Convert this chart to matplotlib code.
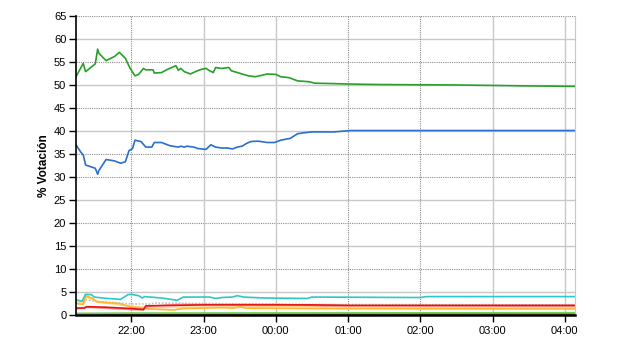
from datetime import datetime

import matplotlib
matplotlib.use('Agg')
import matplotlib.dates as mdates
import matplotlib.pyplot as plt

plt.rcParams['font.family'] = ['Liberation Sans', 'DejaVu Sans']

# (times, % of vote) per party
green_t = ['21:14', '21:20', '21:22', '21:30', '21:32', '21:33', '21:39', '21:46', '21:50',
           '21:55', '21:59', '22:03', '22:06', '22:10', '22:12', '22:18', '22:19', '22:25',
           '22:30', '22:37', '22:39', '22:41', '22:44', '22:49', '22:54', '22:58', '23:02',
           '23:05', '23:08', '23:10', '23:15', '23:21', '23:23', '23:28', '23:37', '23:43',
           '23:53', '00:00', '00:04', '00:11', '00:18', '00:28', '00:32', '00:48', '01:02',
           '01:27', '02:30', '03:30', '04:08']
green_v = [51.8, 54.7, 52.9, 54.6, 57.8, 56.9, 55.3, 56.2, 57.1,
           55.8, 53.6, 52.0, 52.3, 53.6, 53.3, 53.3, 52.6, 52.7,
           53.4, 54.2, 53.2, 53.6, 52.9, 52.4, 53.0, 53.4, 53.6,
           53.1, 52.7, 53.8, 53.6, 53.8, 53.1, 52.7, 52.0, 51.8,
           52.4, 52.3, 51.8, 51.6, 50.9, 50.7, 50.4, 50.3, 50.2,
           50.1, 50.0, 49.8, 49.7]

blue_t = ['21:14', '21:18', '21:20', '21:22', '21:30', '21:32', '21:33', '21:39', '21:46',
          '21:51', '21:55', '21:58', '22:01', '22:03', '22:08', '22:12', '22:17', '22:19',
          '22:25', '22:32', '22:39', '22:41', '22:44', '22:46', '22:52', '22:55', '23:02',
          '23:06', '23:10', '23:15', '23:20', '23:24', '23:28', '23:32', '23:35', '23:39',
          '23:45', '23:53', '23:59', '00:04', '00:12', '00:18', '00:23', '00:30', '00:48',
          '01:02', '02:00', '03:00', '04:08']
blue_v = [37.0, 35.4, 34.8, 32.6, 31.9, 30.6, 31.4, 33.8, 33.5,
          33.0, 33.3, 35.7, 36.2, 38.0, 37.7, 36.5, 36.5, 37.5,
          37.5, 36.8, 36.5, 36.7, 36.5, 36.7, 36.5, 36.2, 36.0,
          37.0, 36.5, 36.3, 36.3, 36.1, 36.5, 36.7, 37.2, 37.7,
          37.8, 37.5, 37.5, 38.0, 38.4, 39.4, 39.6, 39.8, 39.8,
          40.1, 40.1, 40.1, 40.1]

cyan_t = ['21:14', '21:19', '21:22', '21:27', '21:29', '21:40', '21:51', '21:57', '22:00',
          '22:06', '22:09', '22:11', '22:25', '22:38', '22:43', '23:05', '23:10', '23:15',
          '23:24', '23:28', '23:33', '23:50', '00:26', '00:30', '02:00', '02:05', '04:08']
cyan_v = [3.3, 3.0, 4.5, 4.4, 3.9, 3.6, 3.4, 4.4, 4.5,
          4.2, 3.7, 4.0, 3.7, 3.2, 3.9, 3.9, 3.6, 3.8,
          3.9, 4.2, 3.9, 3.7, 3.6, 3.9, 3.8, 4.0, 4.0]

gray_t = ['21:14', '21:22', '21:30', '22:00', '22:15', '22:20', '23:00', '23:40', '00:30', '04:08']
gray_v = [2.6, 3.3, 3.0, 2.4, 2.4, 2.6, 2.5, 2.4, 2.3, 2.2]

yellow_t = ['21:14', '21:21', '21:23', '21:30', '21:50', '22:00', '22:15', '23:00', '00:00', '04:08']
yellow_v = [2.8, 2.6, 3.9, 3.0, 2.2, 1.9, 1.6, 1.7, 1.8, 1.7]

orange_t = ['21:14', '21:20', '21:22', '21:27', '21:32', '21:50', '22:00', '22:10', '22:15',
            '22:35', '22:43', '23:00', '23:15', '23:25', '23:30', '23:35', '00:30', '04:08']
orange_v = [2.5, 2.3, 4.2, 3.7, 2.8, 2.5, 1.7, 1.5, 1.3,
            1.1, 1.4, 1.5, 1.6, 1.5, 1.8, 1.5, 1.4, 1.3]

pink_t = ['21:14', '21:22', '22:00', '22:10', '22:14', '22:40', '00:00', '00:40', '04:08']
pink_v = [1.3, 1.7, 1.2, 1.1, 1.9, 2.3, 2.3, 2.0, 1.9]

red_t = ['21:14', '21:21', '21:23', '21:38', '22:00', '22:10', '22:12', '22:40', '23:00',
         '00:30', '01:00', '04:08']
red_v = [1.5, 1.5, 1.8, 1.7, 1.4, 1.2, 2.0, 2.1, 2.2, 2.2, 2.1, 2.1]

lime_t = ['21:14', '22:00', '04:08']
lime_v = [0.3, 0.4, 0.5]

dkgreen_t = ['21:14', '23:00', '04:08']
dkgreen_v = [0.3, 0.3, 0.35]

brown_t = ['21:14', '04:08']
brown_v = [0.1, 0.12]

x_ticks = ['22:00', '23:00', '00:00', '01:00', '02:00', '03:00', '04:00']
y_ticks = list(range(0, 70, 5))


def to_dt(times):
    out = []
    for t in times:
        h, m = map(int, t.split(':'))
        day = 1 if h >= 12 else 2
        out.append(datetime(2000, 1, day, h, m))
    return out


fig = plt.figure(figsize=(6.4, 3.5), dpi=100)
ax = fig.add_axes([76 / 640, 35 / 350, 499 / 640, 299 / 350])

# grid: the original mixes dotted and light solid lines
solid_y = {5, 15, 25, 40, 50, 60}
for v in y_ticks[1:]:
    if v in solid_y:
        ax.axhline(v, color='#c8c8c8', lw=1.0, zorder=0)
    else:
        ax.axhline(v, color='#8c8c8c', lw=0.8, ls=(0, (1, 1)), zorder=0)
solid_x = {'23:00', '00:00', '03:00', '04:00'}
for t, d in zip(x_ticks, to_dt(x_ticks)):
    if t in solid_x:
        ax.axvline(d, color='#c8c8c8', lw=1.0, zorder=0)
    else:
        ax.axvline(d, color='#8c8c8c', lw=0.8, ls=(0, (1, 1)), zorder=0)

series = [
    (brown_t, brown_v, '#cc6600', '-'),
    (dkgreen_t, dkgreen_v, '#3c9a3c', '-'),
    (lime_t, lime_v, '#77cc55', '-'),
    (gray_t, gray_v, '#c0c0c0', (0, (1, 1))),
    (yellow_t, yellow_v, '#ffd890', '-'),
    (orange_t, orange_v, '#ffb52e', '-'),
    (pink_t, pink_v, '#ff8c8c', '-'),
    (red_t, red_v, '#e51414', '-'),
    (cyan_t, cyan_v, '#2ec8c8', '-'),
    (blue_t, blue_v, '#2a6fcc', '-'),
    (green_t, green_v, '#28a028', '-'),
]
for t, v, c, ls in series:
    ax.plot(to_dt(t), v, color=c, lw=1.2, ls=ls)

ax.set_xlim(to_dt(['21:14'])[0], datetime(2000, 1, 2, 4, 8, 30))
ax.set_ylim(0, 65)
ax.set_yticks(y_ticks)
ax.set_xticks(to_dt(x_ticks))
ax.xaxis.set_major_formatter(mdates.DateFormatter('%H:%M'))

for s in ['top']:
    ax.spines[s].set_visible(False)
ax.spines['right'].set_color('#c8c8c8')
ax.spines['left'].set_linewidth(1.2)
ax.spines['bottom'].set_linewidth(1.8)
ax.tick_params(axis='both', direction='out', length=5, width=1, labelsize=8, color='black')
ax.tick_params(axis='x', pad=3)
ax.tick_params(axis='y', pad=2)

ax.set_ylabel('% Votación', fontsize=8.5, fontweight='bold')
ax.yaxis.set_label_coords(-0.052, 0.5)

fig.savefig('out.png', dpi=100)
